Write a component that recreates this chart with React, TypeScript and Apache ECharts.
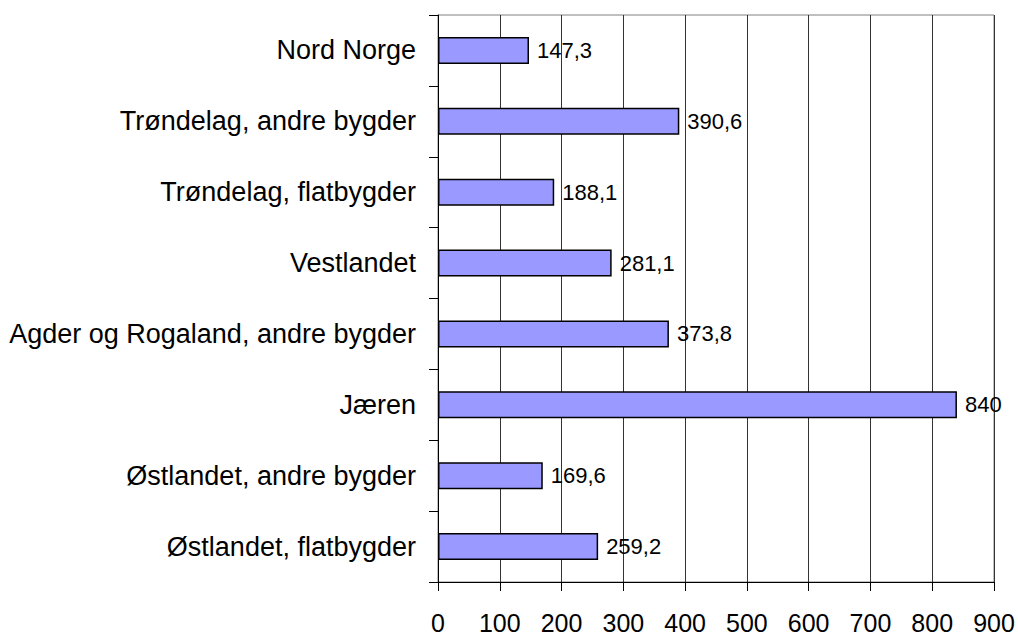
import React, { useEffect, useRef } from "react";
import * as echarts from "echarts";

const categories = [
  "Nord Norge",
  "Trøndelag, andre bygder",
  "Trøndelag, flatbygder",
  "Vestlandet",
  "Agder og Rogaland, andre bygder",
  "Jæren",
  "Østlandet, andre bygder",
  "Østlandet, flatbygder",
];
const values = [147.3, 390.6, 188.1, 281.1, 373.8, 840, 169.6, 259.2];
const xMin = 0;
const xMax = 900;
const xInterval = 100;

const FONT = "'Liberation Sans', Arial, sans-serif";

export default function App() {
  const ref = useRef<HTMLDivElement>(null);
  useEffect(() => {
    if (!ref.current) return;
    const chart = echarts.init(ref.current, undefined, { renderer: "svg" });
    chart.setOption({
      animation: false,
      backgroundColor: "#ffffff",
      grid: {
        left: 438,
        right: 24,
        top: 15,
        bottom: 55,
        show: true,
        borderColor: "#808080",
        borderWidth: 1,
        backgroundColor: "transparent",
      },
      xAxis: {
        type: "value",
        min: xMin,
        max: xMax,
        interval: xInterval,
        axisLine: { show: true, lineStyle: { color: "#000", width: 1 } },
        axisTick: { show: true, length: 9, lineStyle: { color: "#000" } },
        axisLabel: {
          margin: 28,
          fontSize: 25,
          color: "#000",
          fontFamily: FONT,
        },
        splitLine: { show: true, lineStyle: { color: "#333", width: 1 } },
      },
      yAxis: {
        type: "category",
        data: categories,
        inverse: true,
        axisLine: { show: true, lineStyle: { color: "#000", width: 1 } },
        axisTick: { show: true, length: 9, lineStyle: { color: "#000" } },
        axisLabel: {
          margin: 22,
          fontSize: 27,
          color: "#000",
          fontFamily: FONT,
        },
        splitLine: { show: false },
      },
      series: [
        {
          type: "bar",
          data: values,
          barWidth: 27,
          itemStyle: {
            color: "#9999FF",
            borderColor: "#000",
            borderWidth: 1.5,
          },
          label: {
            show: true,
            position: "right",
            distance: 8,
            fontSize: 22,
            color: "#000",
            fontFamily: FONT,
            formatter: (p: any) => String(p.value).replace(".", ","),
          },
        },
      ],
    });
    return () => chart.dispose();
  }, []);
  return (
    <div
      ref={ref}
      style={{ position: "absolute", left: 0, top: 0, width: 1018, height: 637 }}
    />
  );
}
